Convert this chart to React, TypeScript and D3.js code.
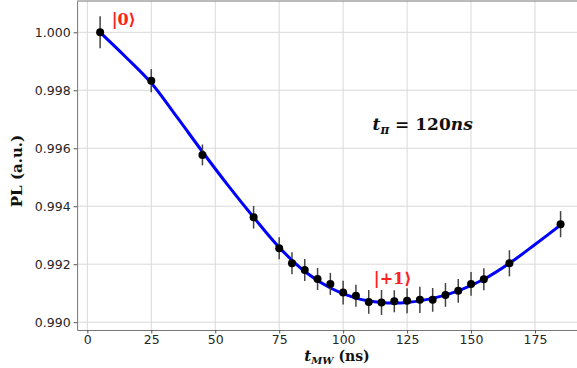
import { useEffect, useRef } from "react";
import * as d3 from "d3";

// measured points (t in ns, PL normalised)
const tData = [5, 25, 45, 65, 75, 80, 85, 90, 95, 100, 105, 110, 115, 120, 125, 130, 135, 140, 145, 150, 155, 165, 185];
const plData = [
  1.0, 0.99833, 0.99577, 0.99362, 0.99255, 0.99203, 0.9918, 0.99149, 0.99132, 0.99102, 0.99091, 0.9907,
  0.99068, 0.99072, 0.99074, 0.99077, 0.99077, 0.99094, 0.99108, 0.99132, 0.99148, 0.99203, 0.99338,
];
const plErr = [
  0.00055, 0.0004, 0.00036, 0.00039, 0.00038, 0.00038, 0.00038, 0.00038, 0.00038, 0.00041, 0.00038, 0.00041,
  0.00043, 0.00038, 0.00043, 0.00045, 0.00041, 0.00041, 0.00041, 0.00041, 0.00038, 0.00045, 0.00045,
];

// fitted curve
const tFit = [5, 15, 25, 35, 45, 55, 65, 75, 85, 95, 105, 115, 125, 135, 145, 155, 165, 175, 185];
const plFit = [
  1.0, 0.99915, 0.99825, 0.99708, 0.99588, 0.99472, 0.99362, 0.99258, 0.99175, 0.99118, 0.99083, 0.99068,
  0.99068, 0.99082, 0.99108, 0.99148, 0.99203, 0.99268, 0.99335,
];

const xTicks = [0, 25, 50, 75, 100, 125, 150, 175];
const yTicks = [0.99, 0.992, 0.994, 0.996, 0.998, 1.0];

const W = 577;
const H = 368;

const App = () => {
  const svgRef = useRef(null);

  useEffect(() => {
    const svg = d3.select(svgRef.current);
    svg.selectAll("*").remove();

    const x = d3.scaleLinear().domain([-4, 194]).range([77.1, 583.6]);
    const y = d3.scaleLinear().domain([0.98973, 1.00108]).range([330, 1]);

    // grid
    const grid = svg.append("g");
    grid
      .selectAll(".gx")
      .data(xTicks)
      .join("line")
      .attr("x1", (d) => x(d))
      .attr("x2", (d) => x(d))
      .attr("y1", y.range()[0])
      .attr("y2", y.range()[1])
      .attr("stroke", "#d9d9d9")
      .attr("stroke-width", 1);
    grid
      .selectAll(".gy")
      .data(yTicks)
      .join("line")
      .attr("x1", x.range()[0])
      .attr("x2", x.range()[1])
      .attr("y1", (d) => y(d))
      .attr("y2", (d) => y(d))
      .attr("stroke", "#d9d9d9")
      .attr("stroke-width", 1);

    // axes
    const xAxis = svg
      .append("g")
      .attr("transform", `translate(0,${y.range()[0]})`)
      .call(d3.axisBottom(x).tickValues(xTicks).tickSize(3.5).tickPadding(2).tickSizeOuter(0));
    const yAxis = svg
      .append("g")
      .attr("transform", `translate(${x.range()[0]},0)`)
      .call(
        d3.axisLeft(y).tickValues(yTicks).tickSize(3.5).tickPadding(3).tickSizeOuter(0).tickFormat(d3.format(".3f"))
      );
    [xAxis, yAxis].forEach((a) => {
      a.selectAll("text").attr("font-family", "DejaVu Sans").attr("font-size", 12.5).attr("fill", "#262626");
      a.selectAll("line").attr("stroke", "#555");
      a.select(".domain").attr("stroke", "#777");
    });
    // top spine
    svg
      .append("line")
      .attr("x1", x.range()[0])
      .attr("x2", x.range()[1])
      .attr("y1", y.range()[1])
      .attr("y2", y.range()[1])
      .attr("stroke", "#777");

    // fit line
    const line = d3
      .line<number>()
      .x((d, i) => x(tFit[i]))
      .y((d) => y(d))
      .curve(d3.curveCatmullRom);
    svg
      .append("path")
      .attr("d", line(plFit))
      .attr("fill", "none")
      .attr("stroke", "#0000ff")
      .attr("stroke-width", 3);

    // error bars
    svg
      .selectAll(".err")
      .data(plData)
      .join("line")
      .attr("x1", (d, i) => x(tData[i]))
      .attr("x2", (d, i) => x(tData[i]))
      .attr("y1", (d, i) => y(d - plErr[i]))
      .attr("y2", (d, i) => y(d + plErr[i]))
      .attr("stroke", "#444")
      .attr("stroke-width", 1.5);

    // points
    svg
      .selectAll(".pt")
      .data(plData)
      .join("circle")
      .attr("cx", (d, i) => x(tData[i]))
      .attr("cy", (d) => y(d))
      .attr("r", 4)
      .attr("fill", "black");

    // annotations
    svg
      .append("text")
      .attr("x", x(9.5))
      .attr("y", 25)
      .attr("font-family", "DejaVu Serif")
      .attr("font-weight", "bold")
      .attr("font-size", 16)
      .attr("fill", "#ff2020")
      .text("|0⟩");
    svg
      .append("text")
      .attr("x", x(112))
      .attr("y", 284)
      .attr("font-family", "DejaVu Serif")
      .attr("font-weight", "bold")
      .attr("font-size", 16)
      .attr("fill", "#ff2020")
      .text("|+1⟩");

    const tp = svg
      .append("text")
      .attr("x", x(111.5))
      .attr("y", 130)
      .attr("font-family", "DejaVu Serif")
      .attr("font-weight", "bold")
      .attr("font-size", 17)
      .attr("fill", "#111");
    tp.append("tspan").attr("font-style", "italic").text("t");
    tp.append("tspan").attr("font-style", "italic").attr("font-size", 12).attr("dy", 4).text("π");
    tp.append("tspan").attr("dy", -4).text(" = 120");
    tp.append("tspan").attr("font-style", "italic").text("ns");

    // axis labels
    const xl = svg
      .append("text")
      .attr("x", 337)
      .attr("y", 361)
      .attr("text-anchor", "middle")
      .attr("font-family", "DejaVu Serif")
      .attr("font-weight", "bold")
      .attr("font-size", 14)
      .attr("fill", "#111");
    xl.append("tspan").attr("font-style", "italic").attr("font-size", 15).text("t");
    xl.append("tspan").attr("font-style", "italic").attr("font-size", 10).attr("dy", 3).text("MW");
    xl.append("tspan").attr("dy", -3).text(" (ns)");

    svg
      .append("text")
      .attr("transform", "translate(22,171) rotate(-90)")
      .attr("text-anchor", "middle")
      .attr("font-family", "DejaVu Serif")
      .attr("font-weight", "bold")
      .attr("font-size", 15)
      .attr("fill", "#111")
      .text("PL (a.u.)");
  }, []);

  return (
    <svg
      ref={svgRef}
      width={W}
      height={H}
      style={{ position: "absolute", left: 0, top: 0, background: "white" }}
    ></svg>
  );
};

export default App;
